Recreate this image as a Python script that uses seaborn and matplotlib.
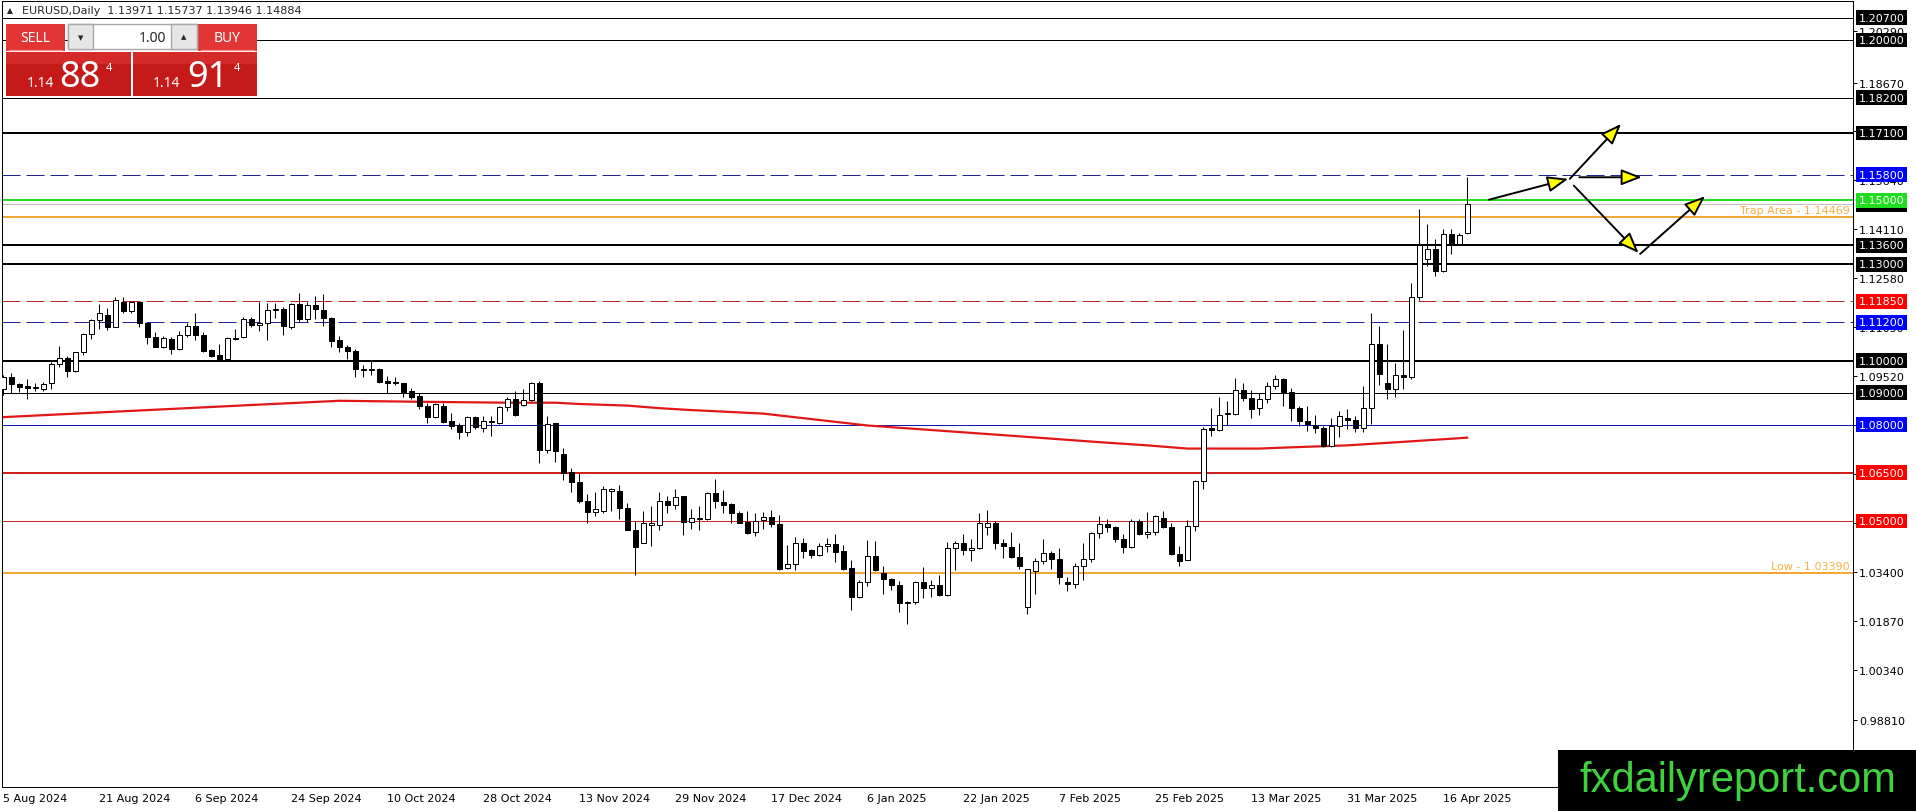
import matplotlib
matplotlib.use("Agg")
import matplotlib.pyplot as plt
from matplotlib.patches import Rectangle
import seaborn as sns

# candle data, one value per daily bar
opens = [1.0911, 1.0948, 1.0927, 1.0921, 1.0915, 1.0913, 1.0929, 1.0990, 1.1007, 1.0969,
         1.1026, 1.1083, 1.1126, 1.1144, 1.1106, 1.1184, 1.1156, 1.1182, 1.1116, 1.1073,
         1.1044, 1.1067, 1.1036, 1.1079, 1.1107, 1.1080, 1.1033, 1.1017, 1.1006, 1.1072,
         1.1073, 1.1129, 1.1111, 1.1116, 1.1157, 1.1160, 1.1106, 1.1177, 1.1129, 1.1173,
         1.1158, 1.1132, 1.1064, 1.1043, 1.1030, 1.0974, 1.0971, 1.0974, 1.0937, 1.0929,
         1.0930, 1.0905, 1.0890, 1.0859, 1.0825, 1.0859, 1.0811, 1.0798, 1.0779, 1.0823,
         1.0789, 1.0808, 1.0807, 1.0857, 1.0881, 1.0861, 1.0877, 1.0931, 1.0723, 1.0806,
         1.0708, 1.0654, 1.0622, 1.0563, 1.0528, 1.0531, 1.0594, 1.0595, 1.0542, 1.0473,
         1.0432, 1.0489, 1.0489, 1.0564, 1.0550, 1.0577, 1.0498, 1.0506, 1.0506, 1.0586,
         1.0558, 1.0552, 1.0526, 1.0497, 1.0466, 1.0502, 1.0513, 1.0492, 1.0354, 1.0366,
         1.0432, 1.0409, 1.0393, 1.0422, 1.0428, 1.0407, 1.0354, 1.0263, 1.0310, 1.0391,
         1.0339, 1.0320, 1.0302, 1.0246, 1.0248, 1.0310, 1.0291, 1.0302, 1.0270, 1.0416,
         1.0433, 1.0409, 1.0416, 1.0481, 1.0495, 1.0432, 1.0420, 1.0389, 1.0233, 1.0344,
         1.0375, 1.0401, 1.0383, 1.0311, 1.0305, 1.0360, 1.0383, 1.0464, 1.0492, 1.0482,
         1.0445, 1.0419, 1.0500, 1.0460, 1.0467, 1.0510, 1.0482, 1.0398, 1.0378, 1.0486,
         1.0625, 1.0790, 1.0784, 1.0835, 1.0835, 1.0908, 1.0884, 1.0851, 1.0880, 1.0921,
         1.0944, 1.0903, 1.0854, 1.0812, 1.0800, 1.0791, 1.0734, 1.0797, 1.0822, 1.0815,
         1.0791, 1.0851, 1.1051, 1.0932, 1.0911, 1.0956, 1.0949, 1.1199, 1.1318, 1.1349,
         1.1280, 1.1396, 1.1363, 1.13971]
highs = [1.0955, 1.0961, 1.0931, 1.0942, 1.0929, 1.0935, 1.0997, 1.1046, 1.1015, 1.1028,
         1.1085, 1.1129, 1.1176, 1.1163, 1.1199, 1.1199, 1.1187, 1.1184, 1.1118, 1.1090,
         1.1077, 1.1073, 1.1093, 1.1116, 1.1148, 1.1090, 1.1035, 1.1052, 1.1073, 1.1098,
         1.1137, 1.1135, 1.1184, 1.1179, 1.1179, 1.1168, 1.1179, 1.1210, 1.1184, 1.1202,
         1.1208, 1.1135, 1.1077, 1.1049, 1.1035, 1.0986, 1.0999, 1.0978, 1.0952, 1.0950,
         1.0932, 1.0914, 1.0898, 1.0867, 1.0867, 1.0867, 1.0836, 1.0805, 1.0827, 1.0827,
         1.0827, 1.0827, 1.0859, 1.0886, 1.0905, 1.0912, 1.0934, 1.0938, 1.0827, 1.0806,
         1.0729, 1.0664, 1.0651, 1.0583, 1.0591, 1.0609, 1.0604, 1.0611, 1.0555, 1.0500,
         1.0531, 1.0547, 1.0590, 1.0578, 1.0599, 1.0578, 1.0536, 1.0547, 1.0590, 1.0630,
         1.0597, 1.0557, 1.0531, 1.0531, 1.0526, 1.0528, 1.0535, 1.0518, 1.0426, 1.0450,
         1.0447, 1.0414, 1.0433, 1.0447, 1.0461, 1.0424, 1.0377, 1.0315, 1.0440, 1.0437,
         1.0360, 1.0323, 1.0312, 1.0250, 1.0312, 1.0357, 1.0317, 1.0333, 1.0435, 1.0439,
         1.0461, 1.0443, 1.0525, 1.0535, 1.0499, 1.0445, 1.0467, 1.0432, 1.0351, 1.0386,
         1.0443, 1.0406, 1.0415, 1.0326, 1.0370, 1.0430, 1.0467, 1.0516, 1.0507, 1.0486,
         1.0460, 1.0505, 1.0505, 1.0529, 1.0519, 1.0531, 1.0493, 1.0422, 1.0503, 1.0627,
         1.0794, 1.0853, 1.0888, 1.0874, 1.0947, 1.0931, 1.0910, 1.0900, 1.0934, 1.0954,
         1.0947, 1.0916, 1.0859, 1.0859, 1.0830, 1.0797, 1.0822, 1.0843, 1.0849, 1.0828,
         1.0921, 1.1148, 1.1108, 1.1051, 1.0992, 1.1095, 1.1241, 1.1474, 1.1425, 1.1378,
         1.1412, 1.1410, 1.1397, 1.15737]
lows = [1.0893, 1.0898, 1.0903, 1.0879, 1.0906, 1.0906, 1.0911, 1.0979, 1.0948, 1.0966,
        1.1018, 1.1069, 1.1098, 1.1096, 1.1104, 1.1148, 1.1148, 1.1104, 1.1052, 1.1042,
        1.1039, 1.1021, 1.1033, 1.1073, 1.1064, 1.1028, 1.1012, 1.1002, 1.1002, 1.1066,
        1.1071, 1.1106, 1.1093, 1.1064, 1.1132, 1.1080, 1.1099, 1.1122, 1.1122, 1.1129,
        1.1109, 1.1044, 1.1028, 1.1005, 1.0948, 1.0950, 1.0955, 1.0931, 1.0898, 1.0923,
        1.0886, 1.0879, 1.0850, 1.0807, 1.0822, 1.0807, 1.0787, 1.0757, 1.0765, 1.0787,
        1.0779, 1.0766, 1.0803, 1.0844, 1.0829, 1.0858, 1.0874, 1.0680, 1.0711, 1.0684,
        1.0628, 1.0592, 1.0557, 1.0493, 1.0516, 1.0526, 1.0531, 1.0505, 1.0471, 1.0332,
        1.0430, 1.0422, 1.0471, 1.0524, 1.0538, 1.0458, 1.0476, 1.0472, 1.0504, 1.0541,
        1.0526, 1.0495, 1.0493, 1.0461, 1.0453, 1.0476, 1.0481, 1.0346, 1.0349, 1.0346,
        1.0385, 1.0386, 1.0390, 1.0405, 1.0372, 1.0346, 1.0224, 1.0261, 1.0297, 1.0343,
        1.0274, 1.0284, 1.0216, 1.0178, 1.0242, 1.0260, 1.0263, 1.0266, 1.0266, 1.0346,
        1.0393, 1.0374, 1.0412, 1.0455, 1.0414, 1.0385, 1.0384, 1.0349, 1.0209, 1.0271,
        1.0365, 1.0349, 1.0305, 1.0282, 1.0290, 1.0316, 1.0372, 1.0448, 1.0466, 1.0435,
        1.0399, 1.0415, 1.0456, 1.0448, 1.0456, 1.0477, 1.0394, 1.0360, 1.0377, 1.0469,
        1.0601, 1.0765, 1.0780, 1.0801, 1.0832, 1.0874, 1.0822, 1.0830, 1.0867, 1.0911,
        1.0859, 1.0812, 1.0797, 1.0781, 1.0774, 1.0732, 1.0732, 1.0763, 1.0786, 1.0778,
        1.0778, 1.0802, 1.0923, 1.0880, 1.0887, 1.0911, 1.0942, 1.1189, 1.1295, 1.1264,
        1.1278, 1.1332, 1.1360, 1.13946]
closes = [1.0948, 1.0926, 1.0919, 1.0914, 1.0917, 1.0926, 1.0989, 1.1007, 1.0969, 1.1026,
          1.1082, 1.1126, 1.1148, 1.1106, 1.1188, 1.1156, 1.1182, 1.1116, 1.1073, 1.1044,
          1.1070, 1.1036, 1.1080, 1.1107, 1.1080, 1.1031, 1.1016, 1.1006, 1.1070, 1.1069,
          1.1129, 1.1110, 1.1118, 1.1158, 1.1160, 1.1109, 1.1177, 1.1129, 1.1173, 1.1160,
          1.1132, 1.1062, 1.1042, 1.1029, 1.0973, 1.0971, 1.0974, 1.0935, 1.0931, 1.0934,
          1.0903, 1.0888, 1.0859, 1.0825, 1.0864, 1.0810, 1.0797, 1.0779, 1.0825, 1.0792,
          1.0811, 1.0811, 1.0856, 1.0879, 1.0832, 1.0876, 1.0931, 1.0723, 1.0803, 1.0718,
          1.0651, 1.0621, 1.0561, 1.0528, 1.0538, 1.0599, 1.0599, 1.0540, 1.0472, 1.0419,
          1.0495, 1.0493, 1.0564, 1.0550, 1.0576, 1.0498, 1.0508, 1.0508, 1.0586, 1.0564,
          1.0550, 1.0524, 1.0495, 1.0464, 1.0500, 1.0513, 1.0492, 1.0351, 1.0366, 1.0432,
          1.0407, 1.0393, 1.0422, 1.0428, 1.0405, 1.0351, 1.0263, 1.0310, 1.0391, 1.0346,
          1.0318, 1.0300, 1.0246, 1.0248, 1.0310, 1.0291, 1.0302, 1.0270, 1.0416, 1.0433,
          1.0409, 1.0416, 1.0495, 1.0495, 1.0432, 1.0421, 1.0388, 1.0360, 1.0349, 1.0375,
          1.0401, 1.0383, 1.0326, 1.0305, 1.0360, 1.0383, 1.0464, 1.0492, 1.0481, 1.0443,
          1.0419, 1.0500, 1.0460, 1.0467, 1.0516, 1.0481, 1.0396, 1.0375, 1.0486, 1.0625,
          1.0788, 1.0784, 1.0832, 1.0838, 1.0908, 1.0884, 1.0850, 1.0880, 1.0921, 1.0944,
          1.0903, 1.0854, 1.0812, 1.0802, 1.0791, 1.0734, 1.0797, 1.0826, 1.0815, 1.0791,
          1.0851, 1.1051, 1.0960, 1.0911, 1.0956, 1.0949, 1.1199, 1.1360, 1.1349, 1.1280,
          1.1396, 1.1363, 1.1391, 1.14884]

# date labels, one every 12 bars
date_labels = ["5 Aug 2024", "21 Aug 2024", "6 Sep 2024", "24 Sep 2024", "10 Oct 2024",
               "28 Oct 2024", "13 Nov 2024", "29 Nov 2024", "17 Dec 2024", "6 Jan 2025",
               "22 Jan 2025", "7 Feb 2025", "25 Feb 2025", "13 Mar 2025", "31 Mar 2025",
               "16 Apr 2025"]
date_bars = [0, 12, 24, 36, 48, 60, 72, 84, 96, 108, 120, 132, 144, 156, 168, 180]

# moving average, read at a few bars
ma_bars = [0, 32, 42, 52, 63, 69, 72, 78, 82, 86, 91, 95, 108, 126, 137, 143, 148, 157, 160, 168, 175, 183]
ma_values = [1.0824, 1.0863, 1.0875, 1.0872, 1.0869, 1.0869, 1.0865, 1.0860, 1.0852, 1.0846,
             1.0840, 1.0835, 1.0798, 1.0766, 1.0746, 1.0736, 1.0726, 1.0726, 1.0729, 1.0736,
             1.0747, 1.0760]

# horizontal levels
level_prices = [1.207, 1.200, 1.182, 1.171, 1.158, 1.150, 1.14884, 1.14469, 1.136, 1.130,
                1.1185, 1.112, 1.100, 1.090, 1.080, 1.065, 1.050, 1.0339]
level_colors = ["black", "black", "black", "black", "#22229c", "#22dd22", "#c0c0c0", "#f2a733",
                "black", "black", "#b82525", "#22229c", "black", "black", "#1515b0", "#cc2020",
                "#d02525", "#f2a733"]
level_px = [1, 1, 1, 2, 1, 2, 1, 2, 2, 2, 1, 1, 2, 1, 1, 2, 1, 2]
level_dashed = [False, False, False, False, True, False, False, False, False, False,
                True, True, False, False, False, False, False, False]

# price labels on the right axis
box_prices = [1.14884, 1.207, 1.200, 1.182, 1.171, 1.158, 1.150, 1.136, 1.130, 1.1185,
              1.112, 1.100, 1.090, 1.080, 1.065, 1.050]
box_colors = ["black", "black", "black", "black", "black", "#0000ff", "#1fdd1f", "black",
              "black", "#ff0000", "#0000ff", "black", "black", "#0000ff", "#ff0000", "#ff0000"]
tick_prices = [0.98810, 1.00340, 1.01870, 1.03400, 1.04930, 1.06460, 1.07990, 1.09520,
               1.11050, 1.12580, 1.14110, 1.15640, 1.17170, 1.18670, 1.20290]

# scenario arrows (bar, price) -> (bar, price)
arrows = [(185.7, 1.1502, 195.6, 1.1567),
          (195.8, 1.1567, 202.2, 1.1738),
          (197.0, 1.1572, 204.8, 1.1572),
          (196.3, 1.1546, 204.4, 1.1336),
          (204.6, 1.1333, 212.7, 1.1513)]

W, H = 1916, 812
PX = 0.72  # one pixel in points

sns.set_style("white")
plt.rcParams['font.family'] = ['DejaVu Sans']

fig = plt.figure(figsize=(W / 100, H / 100), dpi=100)
ax = fig.add_axes([2 / W, 1 - 788 / H, 1851 / W, 786 / H])
ax.set_xlim(-0.16, 231.2)
ax.set_ylim(0.96707, 1.21216)

# levels
for p, c, w, d in zip(level_prices, level_colors, level_px, level_dashed):
    ax.axhline(p, color=c, lw=w * PX, ls=(0, (18, 6)) if d else "-", zorder=1)

# moving average
sns.lineplot(x=ma_bars, y=ma_values, color="#e01818", lw=1.6, ax=ax, zorder=2)

# candles
bars = list(range(len(opens)))
ax.vlines(bars, lows, highs, color="black", lw=PX, zorder=3)
body_low = [min(o, c) for o, c in zip(opens, closes)]
body_h = [abs(c - o) for o, c in zip(opens, closes)]
fills = ["white" if c >= o else "black" for o, c in zip(opens, closes)]
ax.bar(bars, body_h, bottom=body_low, width=0.58, color=fills, edgecolor="black",
       linewidth=PX, zorder=4)

# text on lines
ax.annotate("Trap Area - 1.14469", xy=(0.9984, 1.14469), xycoords=ax.get_yaxis_transform(),
            xytext=(0, 1.5), textcoords="offset points", ha="right", va="bottom",
            color="#f5b041", fontsize=8)
ax.annotate("Low - 1.03390", xy=(0.9984, 1.0339), xycoords=ax.get_yaxis_transform(),
            xytext=(0, 1.5), textcoords="offset points", ha="right", va="bottom",
            color="#f5b041", fontsize=8)

# arrows
for x0, y0, x1, y1 in arrows:
    ax.annotate("", xy=(x1, y1), xytext=(x0, y0),
                arrowprops=dict(arrowstyle="-|>,head_length=0.9,head_width=0.35",
                                fc="#ffff00", ec="black", lw=1.4,
                                shrinkA=0, shrinkB=0, mutation_scale=14), zorder=6)

# axes and ticks
for s in ax.spines.values():
    s.set_color("black")
    s.set_linewidth(PX)
ax.yaxis.tick_right()
ax.set_yticks(tick_prices)
ax.set_yticklabels(["%.5f" % t for t in tick_prices])
ax.set_xticks(date_bars)
ax.set_xticklabels(date_labels)
for lab in ax.get_xticklabels():
    lab.set_ha("left")
ax.tick_params(axis="both", direction="out", length=3, width=PX, colors="black",
               labelsize=8, pad=1.5)
ax.set_xlabel("")
ax.set_ylabel("")

for p, c in zip(box_prices, box_colors):
    ax.text((1858.5 - 2) / 1851, p, "%.5f" % p, transform=ax.get_yaxis_transform(),
            ha="left", va="center", fontsize=8, color="white", clip_on=False, zorder=8,
            bbox=dict(boxstyle="square,pad=0.22", fc=c, ec="none"))

# overlay in pixel units for header, trade panel and watermark
ov = fig.add_axes([0, 0, 1, 1])
ov.set_xlim(0, W)
ov.set_ylim(H, 0)
ov.axis("off")

ov.text(10, 11, "\u25b2", fontsize=5.5, ha="center", va="center")
ov.text(22, 11, "EURUSD,Daily  1.13971 1.15737 1.13946 1.14884", fontsize=8, va="center")

ov.add_patch(Rectangle((6, 25), 59, 27, fc="#e23636", ec="none"))
ov.add_patch(Rectangle((198, 25), 59, 27, fc="#e23636", ec="none"))
ov.plot([9, 62], [51, 51], color="#f08a8a", lw=1)
ov.plot([201, 254], [51, 51], color="#f08a8a", lw=1)
ov.text(35.5, 39, "SELL", color="white", fontsize=10, ha="center", va="center",
        family="Noto Sans")
ov.text(227.5, 39, "BUY", color="white", fontsize=10, ha="center", va="center",
        family="Noto Sans")
ov.add_patch(Rectangle((68, 25), 129, 25, fc="white", ec="#a8a8a8", lw=1))
ov.add_patch(Rectangle((68, 25), 25, 25, fc="#e6e6e6", ec="#a8a8a8", lw=1))
ov.add_patch(Rectangle((171, 25), 26, 25, fc="#e6e6e6", ec="#a8a8a8", lw=1))
ov.text(80.5, 38, "\u25bc", fontsize=5, ha="center", va="center")
ov.text(184, 37, "\u25b2", fontsize=5, ha="center", va="center")
ov.text(166, 38, "1.00", fontsize=10, ha="right", va="center", family="Noto Sans")

for x0, big, dx in [(6, "88", 0), (133, "91", 0)]:
    ov.add_patch(Rectangle((x0, 53), 124 if x0 == 133 else 125, 44, fc="#c41a1a", ec="none"))
    ov.add_patch(Rectangle((x0, 53), 124 if x0 == 133 else 125, 12, fc="#d42a2a", ec="none"))
ov.text(27, 87, "1.14", color="white", fontsize=10, fontweight="bold", va="baseline",
        family="Noto Sans")
ov.text(59, 87, "88", color="white", fontsize=26, va="baseline", family="Noto Sans")
ov.text(106, 71, "4", color="white", fontsize=8, fontweight="bold", va="baseline",
        family="Noto Sans")
ov.text(153, 87, "1.14", color="white", fontsize=10, fontweight="bold", va="baseline",
        family="Noto Sans")
ov.text(187, 87, "91", color="white", fontsize=26, va="baseline", family="Noto Sans")
ov.text(234, 71, "4", color="white", fontsize=8, fontweight="bold", va="baseline",
        family="Noto Sans")

ov.add_patch(Rectangle((1558, 751), 358, 61, fc="black", ec="none"))
ov.text(1738, 781, "fxdailyreport.com", color="#3fd23f", fontsize=30, ha="center",
        va="center", family="Liberation Sans")

fig.savefig("out.png", dpi=100)
